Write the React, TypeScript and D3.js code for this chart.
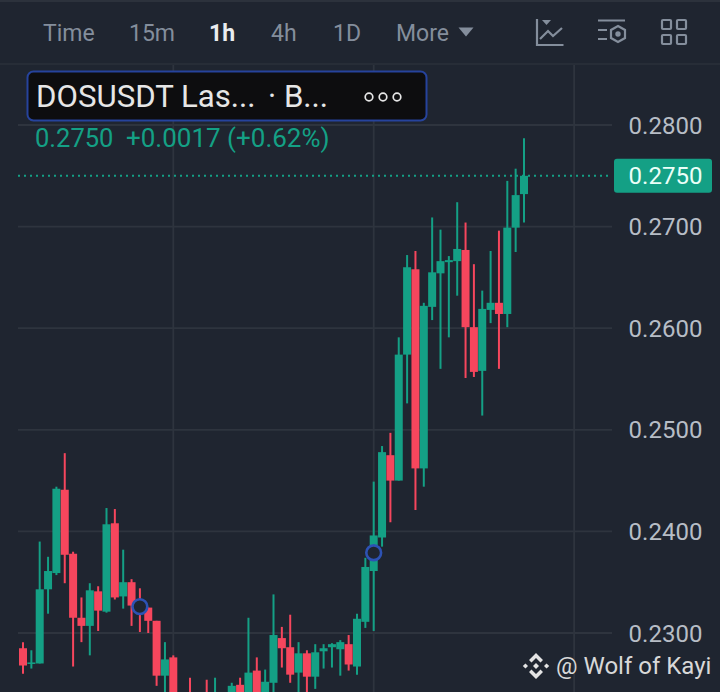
import * as React from "react";
import * as d3 from "d3";

const open = [
  0.2285, 0.2270, 0.2270, 0.2343, 0.2359, 0.2441, 0.2378, 0.2315, 0.2307, 0.2341,
  0.2321, 0.2408, 0.2336, 0.2350, 0.2330, 0.2325, 0.2312, 0.2258, 0.2276, 0.2225,
  0.2232, 0.2215, 0.2232, 0.2220, 0.2220, 0.2225, 0.2249, 0.2230, 0.2263, 0.2230,
  0.2251, 0.2295, 0.2286, 0.2261, 0.2280, 0.2257, 0.2282, 0.2286, 0.2284, 0.2289,
  0.2267, 0.2311, 0.2361, 0.2394, 0.2475, 0.2450, 0.2574, 0.2658, 0.2462, 0.2621,
  0.2654, 0.2665, 0.2666, 0.2677, 0.2601, 0.2558, 0.2618, 0.2625, 0.2614, 0.2699,
  0.2732,
];
const close = [
  0.2268, 0.2271, 0.2343, 0.2361, 0.2442, 0.2377, 0.2315, 0.2307, 0.2342, 0.2322,
  0.2407, 0.2335, 0.2350, 0.2327, 0.2325, 0.2312, 0.2258, 0.2274, 0.2229, 0.2210,
  0.2205, 0.2230, 0.2220, 0.2236, 0.2235, 0.2248, 0.2228, 0.2261, 0.2228, 0.2252,
  0.2298, 0.2285, 0.2259, 0.2280, 0.2257, 0.2281, 0.2285, 0.2289, 0.2291, 0.2269,
  0.2314, 0.2365, 0.2396, 0.2478, 0.2450, 0.2574, 0.2660, 0.2462, 0.2622, 0.2655,
  0.2666, 0.2667, 0.2678, 0.2601, 0.2557, 0.2619, 0.2625, 0.2614, 0.2699, 0.2731,
  0.2750,
];
const high = [
  0.2291, 0.2283, 0.2390, 0.2375, 0.2444, 0.2477, 0.2380, 0.2335, 0.2349, 0.2346,
  0.2423, 0.2422, 0.2382, 0.2353, 0.2344, 0.2325, 0.2312, 0.2291, 0.2278, 0.2230,
  0.2256, 0.2238, 0.2254, 0.2256, 0.2240, 0.2251, 0.2256, 0.2315, 0.2276, 0.2264,
  0.2338, 0.2306, 0.2318, 0.2291, 0.2283, 0.2289, 0.2289, 0.2290, 0.2293, 0.2298,
  0.2319, 0.2374, 0.2449, 0.2484, 0.2497, 0.2591, 0.2672, 0.2676, 0.2625, 0.2709,
  0.2697, 0.2671, 0.2724, 0.2704, 0.2663, 0.2637, 0.2676, 0.2696, 0.2745, 0.2757,
  0.2787,
];
const low = [
  0.2260, 0.2265, 0.2270, 0.2319, 0.2357, 0.2349, 0.2267, 0.2291, 0.2278, 0.2302,
  0.2320, 0.2333, 0.2324, 0.2307, 0.2301, 0.2300, 0.2248, 0.2234, 0.2222, 0.2200,
  0.2200, 0.2205, 0.2210, 0.2212, 0.2212, 0.2215, 0.2220, 0.2225, 0.2222, 0.2225,
  0.2232, 0.2266, 0.2251, 0.2235, 0.2235, 0.2245, 0.2265, 0.2266, 0.2258, 0.2263,
  0.2259, 0.2305, 0.2302, 0.2385, 0.2409, 0.2450, 0.2526, 0.2421, 0.2444, 0.2608,
  0.2560, 0.2591, 0.2632, 0.2551, 0.2552, 0.2514, 0.2605, 0.2560, 0.2601, 0.2675,
  0.2704,
];
const priceTicks = [0.28, 0.27, 0.26, 0.25, 0.24, 0.23];
const lastPrice = 0.275;
const markerCandles = [14, 42];
const markerPrices = [0.2326, 0.2379];
const intervals = ["Time", "15m", "1h", "4h", "1D", "More"];
const intervalX = [43, 129, 209, 271, 333, 396];
const timeGrid = [18.0, 42.0, 66.0];

const bg = "#1f2530";
const grid = "#2e343e";
const green = "#14a085";
const red = "#f6465d";
const muted = "#848e9c";
const font = "Roboto, sans-serif";

function drawChart(node: SVGSVGElement) {
  const svg = d3.select(node);
  svg.selectAll("*").remove();

  const x = d3.scaleLinear().domain([0, 60]).range([23, 524]);
  const y = d3.scaleLinear().domain([0.23, 0.28]).range([633, 125]);

  svg.append("rect").attr("width", 720).attr("height", 692).attr("fill", bg);

  // header separators
  svg.append("rect").attr("width", 720).attr("height", 2).attr("fill", "#2c323c");
  svg.append("rect").attr("y", 63).attr("width", 720).attr("height", 2).attr("fill", "#272d37");

  // grid
  svg.selectAll(".h").data(priceTicks).enter().append("line")
    .attr("x1", 18).attr("x2", 612)
    .attr("y1", (d) => y(d)).attr("y2", (d) => y(d))
    .attr("stroke", grid).attr("stroke-width", 1.8);
  svg.selectAll(".v").data(timeGrid).enter().append("line")
    .attr("x1", (d) => x(d)).attr("x2", (d) => x(d))
    .attr("y1", 65).attr("y2", 692)
    .attr("stroke", grid).attr("stroke-width", 1.8);

  // last price line
  svg.append("line")
    .attr("x1", 18).attr("x2", 612)
    .attr("y1", y(lastPrice)).attr("y2", y(lastPrice))
    .attr("stroke", green).attr("stroke-width", 2)
    .attr("stroke-dasharray", "2 4");

  // candles
  const candles = svg.selectAll(".candle").data(d3.range(open.length)).enter().append("g");
  const col = (i: number) => (close[i] >= open[i] ? green : red);
  candles.append("line")
    .attr("x1", (i) => x(i)).attr("x2", (i) => x(i))
    .attr("y1", (i) => y(high[i])).attr("y2", (i) => y(low[i]))
    .attr("stroke", col).attr("stroke-width", 2);
  candles.append("rect")
    .attr("x", (i) => x(i) - 4)
    .attr("width", 8)
    .attr("y", (i) => y(Math.max(open[i], close[i])))
    .attr("height", (i) => Math.max(1.5, Math.abs(y(open[i]) - y(close[i]))))
    .attr("fill", col);

  // trade markers
  svg.selectAll(".marker").data(markerCandles).enter().append("circle")
    .attr("cx", (d) => x(d)).attr("cy", (_, i) => y(markerPrices[i]))
    .attr("r", 7.4).attr("fill", bg)
    .attr("stroke", "#2d52b4").attr("stroke-width", 2.6);

  // price axis
  svg.selectAll(".tick-label").data(priceTicks).enter().append("text")
    .attr("x", 665.5).attr("y", (d) => y(d))
    .attr("dy", "0.36em").attr("text-anchor", "middle")
    .attr("font-family", font).attr("font-size", 24).attr("fill", "#b7bdc6")
    .text((d) => d3.format(".4f")(d));

  svg.append("rect")
    .attr("x", 614).attr("y", y(lastPrice) - 17).attr("width", 98).attr("height", 34).attr("rx", 3)
    .attr("fill", green);
  svg.append("text")
    .attr("x", 665.5).attr("y", y(lastPrice)).attr("dy", "0.36em").attr("text-anchor", "middle")
    .attr("font-family", font).attr("font-size", 24).attr("fill", "#eafff8")
    .text(d3.format(".4f")(lastPrice));

  // interval tabs
  intervals.forEach((t, i) => {
    svg.append("text")
      .attr("x", intervalX[i]).attr("y", 41)
      .attr("font-family", font).attr("font-size", 23)
      .attr("font-weight", t === "1h" ? 700 : 400)
      .attr("fill", t === "1h" ? "#eaecef" : muted)
      .text(t);
  });
  svg.append("path").attr("d", "M458.5 27.5h15l-7.5 9z").attr("fill", muted);

  // toolbar icons
  const icons = svg.append("g").attr("fill", "none").attr("stroke", muted).attr("stroke-width", 2.2);
  icons.append("path").attr("d", "M537 19V45H563.5");
  icons.append("path").attr("d", "M540 39L548 31L553 36L562 28");
  icons.append("path").attr("d", "M542 20h9l-4.5 5z").attr("fill", muted).attr("stroke", "none");
  icons.append("path").attr("d", "M598 20.5H625M598 30H607M598 39H607");
  icons.append("path").attr("d", "M618 26L625 30V38L618 42L611 38V30Z");
  icons.append("circle").attr("cx", 618).attr("cy", 34).attr("r", 1.6).attr("fill", muted);
  [[662, 20], [677, 20], [662, 35], [677, 35]].forEach(([a, b]) => {
    icons.append("rect").attr("x", a).attr("y", b).attr("width", 9).attr("height", 9).attr("rx", 1);
  });

  // legend
  svg.append("rect")
    .attr("x", 27.5).attr("y", 71.5).attr("width", 399).attr("height", 49).attr("rx", 6)
    .attr("fill", "#0d0d0f").attr("stroke", "#26439c").attr("stroke-width", 2);
  svg.append("text")
    .attr("x", 36).attr("y", 107)
    .attr("font-family", font).attr("font-size", 31.2).attr("fill", "#e6e6e6")
    .text("DOSUSDT Las...");
  svg.append("text")
    .attr("x", 268).attr("y", 107)
    .attr("font-family", font).attr("font-size", 31.2).attr("fill", "#e6e6e6")
    .text("· B...");
  [369, 383, 397].forEach((cx) => {
    svg.append("circle").attr("cx", cx).attr("cy", 97).attr("r", 3.8)
      .attr("fill", "none").attr("stroke", "#e6e6e6").attr("stroke-width", 1.7);
  });
  svg.append("text")
    .attr("x", 35).attr("y", 147)
    .attr("font-family", font).attr("font-size", 25.5).attr("fill", green)
    .text("0.2750");
  svg.append("text")
    .attr("x", 126).attr("y", 147)
    .attr("font-family", font).attr("font-size", 26).attr("fill", green)
    .text("+0.0017 (+0.62%)");

  // watermark
  const logo = svg.append("g").attr("fill", "#e4e4e4").attr("transform", "translate(536,666)");
  logo.append("path").attr("d", "M0 -13L7 -6L4.5 -3.5L0 -8L-4.5 -3.5L-7 -6Z");
  logo.append("path").attr("d", "M0 13L7 6L4.5 3.5L0 8L-4.5 3.5L-7 6Z");
  logo.append("path").attr("d", "M0 -3L3 0L0 3L-3 0Z");
  logo.append("path").attr("d", "M-10.5 -2.6L-8 0L-10.5 2.6L-13.2 0Z");
  logo.append("path").attr("d", "M10.5 -2.6L13.2 0L10.5 2.6L8 0Z");
  svg.append("text")
    .attr("x", 556).attr("y", 674)
    .attr("font-family", font).attr("font-size", 24).attr("fill", "#d8d8d8")
    .text("@ Wolf of Kayi");
}

const App: React.FunctionComponent = () => {
  const svg = React.useRef<SVGSVGElement>(null);
  React.useEffect(() => {
    if (svg.current) drawChart(svg.current);
  }, []);

  return (
    <svg
      ref={svg}
      width={720}
      height={692}
      style={{ position: "absolute", left: 0, top: 0, display: "block" }}
    />
  );
};

export default App;
